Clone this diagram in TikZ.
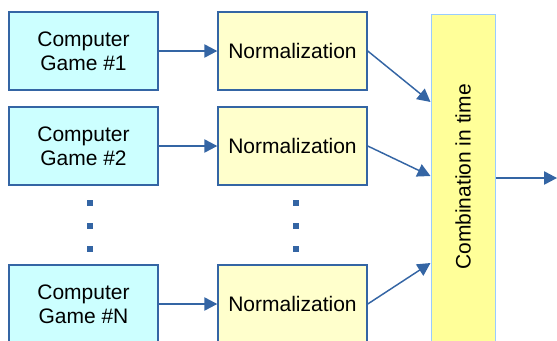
\documentclass[tikz,border=0pt]{standalone}
\usepackage{fontspec}
\setmainfont{Liberation Sans}
\usetikzlibrary{arrows.meta}

\definecolor{boxblue}{RGB}{52,101,164}
\definecolor{gamefill}{RGB}{204,255,255}
\definecolor{normfill}{RGB}{255,255,204}
\definecolor{combfill}{RGB}{255,255,153}
\definecolor{combline}{RGB}{153,204,255}

\tikzset{
  gamebox/.style={draw=boxblue, line width=1.1pt, fill=gamefill, minimum width=111.75pt, minimum height=58.5pt, align=center, inner sep=0pt, font=\fontsize{15.75}{18}\selectfont},
  normbox/.style={draw=boxblue, line width=1.1pt, fill=normfill, minimum width=111.75pt, minimum height=58.5pt, inner sep=0pt, font=\fontsize{15.75}{18}\selectfont},
  combbox/.style={draw=combline, line width=0.75pt, fill=combfill, minimum width=48pt, minimum height=252pt, inner sep=0pt, font=\fontsize{15.75}{18}\selectfont},
  flow/.style={draw=boxblue, line width=1.1pt, -{Triangle[length=9.75pt,width=10pt]}},
  vdot/.style={fill=boxblue, draw=none}
}

\begin{document}
\begin{tikzpicture}[x=0.75pt,y=0.75pt,yscale=-1,xscale=1]
        \useasboundingbox (0,0) rectangle (557,340);
        \clip (0,0) rectangle (557,340);
        % sources
        \node [gamebox] (game1) at (83.5,51) {Computer\\Game \#1};
        \node [gamebox] (game2) at (83.5,146) {Computer\\Game \#2};
        \node [gamebox] (gameN) at (83.5,304) {Computer\\Game \#N};
        % normalization
        \node [normbox] (norm1) at (292.5,51) {Normalization};
        \node [normbox] (norm2) at (292.5,146) {Normalization};
        \node [normbox] (normN) at (292.5,304) {Normalization};
        % combination
        \node [combbox] (comb) at (463,182) {\rotatebox{90}{\hspace{7.5pt}Combination in time}};
        \coordinate (out) at (557,178);
        \draw [flow] (game1) -- (norm1);
        \draw [flow] (game2) -- (norm2);
        \draw [flow] (gameN) -- (normN);
        \draw [flow] (norm1.east) -- (comb.west |- 0,102);
        \draw [flow] (norm2.east) -- (comb.west |- 0,176);
        \draw [flow] (normN.east) -- (comb.west |- 0,263);
        \draw [flow] (comb.east |- out) -- (out);
        % vertical dots
        \foreach \x in {90,296} {
          \foreach \y in {203,226,249} {
            \fill [vdot] (\x-3,\y-3) rectangle (\x+3,\y+3);
          }
        }
    \end{tikzpicture}
\end{document}
